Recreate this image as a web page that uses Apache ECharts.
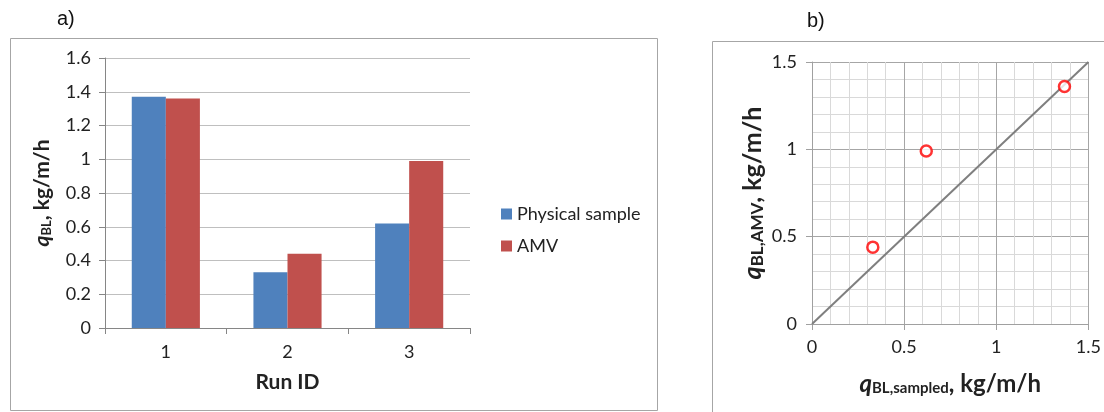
<!DOCTYPE html>
<html>
<head>
<meta charset="utf-8">
<script src="https://cdn.jsdelivr.net/npm/echarts@6/dist/echarts.min.js"></script>
<style>html,body{margin:0;padding:0;background:#fff}#c{width:1104px;height:412px}</style>
</head>
<body>
<div id="c"></div>
<script>
// ---- data ----
const runIds = ['1', '2', '3'];
const physicalSample = [1.37, 0.33, 0.62];
const amv = [1.36, 0.44, 0.99];
const sampledVsAmv = [[0.33, 0.44], [0.62, 0.99], [1.37, 1.36]];
const identityRange = [0, 1.5];
const barTicks = { min: 0, max: 1.6, interval: 0.2 };
const scatterTicks = { min: 0, max: 1.5, interval: 0.5 };

const fontA = 'Lato, "Open Sans", sans-serif';
const fontB = '"Liberation Sans", Arial, sans-serif';

function richName(big, small, pad) {
  return {
    fontFamily: fontA, color: '#222',
    rich: {
      q: { fontSize: big, fontWeight: 'bold', fontStyle: 'italic', fontFamily: fontA, color: '#222' },
      s: { fontSize: small, fontWeight: 'bold', fontFamily: fontA, color: '#222', padding: [pad, 0, 0, 0] },
      n: { fontSize: big, fontWeight: 'bold', fontFamily: fontA, color: '#222' }
    }
  };
}

const chart = echarts.init(document.getElementById('c'), null, { renderer: 'canvas' });
chart.setOption({
  backgroundColor: '#fff',
  animation: false,
  graphic: [
    { type: 'rect', shape: { x: 10.5, y: 38.5, width: 647, height: 372 }, style: { fill: 'none', stroke: '#A6A6A6', lineWidth: 1 } },
    { type: 'rect', shape: { x: 712.5, y: 41.5, width: 420, height: 380 }, style: { fill: 'none', stroke: '#A6A6A6', lineWidth: 1 } },
    { type: 'text', left: 57, top: 9, style: { text: 'a)', font: '20px ' + fontB, fill: '#111' } },
    { type: 'text', left: 807, top: 11, style: { text: 'b)', font: '20px ' + fontB, fill: '#111' } }
  ],
  legend: {
    data: ['Physical sample', 'AMV'],
    orient: 'vertical',
    left: 496, top: 200,
    itemWidth: 11, itemHeight: 11, itemGap: 14,
    icon: 'rect',
    textStyle: { fontSize: 18, fontFamily: fontA, color: '#222' }
  },
  grid: [
    { left: 105, top: 58, width: 365, height: 270 },
    { left: 812, top: 62, width: 277, height: 262 }
  ],
  xAxis: [
    {
      gridIndex: 0, type: 'category', data: runIds,
      axisLine: { lineStyle: { color: '#868686' } },
      axisTick: { show: true, length: 6, lineStyle: { color: '#868686' } },
      axisLabel: { fontSize: 18, fontFamily: fontA, color: '#222', margin: 15 },
      name: 'Run ID', nameLocation: 'middle', nameGap: 44,
      nameTextStyle: { fontSize: 21, fontWeight: 'bold', fontFamily: fontA, color: '#222' }
    },
    {
      gridIndex: 1, type: 'value', min: scatterTicks.min, max: scatterTicks.max, interval: scatterTicks.interval,
      axisLine: { show: true, lineStyle: { color: '#A0A0A0' } },
      axisTick: { show: true, length: 6, lineStyle: { color: '#A0A0A0' } },
      axisLabel: { fontSize: 18, fontFamily: fontA, color: '#222', margin: 14 },
      splitLine: { show: true, lineStyle: { color: '#A6A6A6' } },
      minorTick: { show: false, splitNumber: 5 },
      minorSplitLine: { show: true, lineStyle: { color: '#D9D9D9' } },
      name: '{q|q}{s|BL,sampled}{n|, kg/m/h}', nameLocation: 'middle', nameGap: 48,
      nameTextStyle: richName(24, 15, 9)
    }
  ],
  yAxis: [
    {
      gridIndex: 0, type: 'value', min: barTicks.min, max: barTicks.max, interval: barTicks.interval,
      axisLine: { show: true, lineStyle: { color: '#868686' } },
      axisTick: { show: true, length: 6, lineStyle: { color: '#868686' } },
      axisLabel: { fontSize: 18, fontFamily: fontA, color: '#222', margin: 14 },
      splitLine: { lineStyle: { color: '#BFBFBF' } },
      name: '{q|q}{s|BL}{n|, kg/m/h}', nameLocation: 'middle', nameGap: 52,
      nameTextStyle: richName(21, 13, 8)
    },
    {
      gridIndex: 1, type: 'value', min: scatterTicks.min, max: scatterTicks.max, interval: scatterTicks.interval,
      axisLine: { show: true, lineStyle: { color: '#A0A0A0' } },
      axisTick: { show: true, length: 6, lineStyle: { color: '#A0A0A0' } },
      axisLabel: { fontSize: 18, fontFamily: fontA, color: '#222', margin: 15 },
      splitLine: { show: true, lineStyle: { color: '#A6A6A6' } },
      minorTick: { show: false, splitNumber: 5 },
      minorSplitLine: { show: true, lineStyle: { color: '#D9D9D9' } },
      name: '{q|q}{s|BL,AMV}{n|, kg/m/h}', nameLocation: 'middle', nameGap: 46,
      nameTextStyle: richName(25, 17, 9)
    }
  ],
  series: [
    {
      name: 'Physical sample', type: 'bar', xAxisIndex: 0, yAxisIndex: 0,
      data: physicalSample, itemStyle: { color: '#4F81BD' },
      barGap: '0%', barCategoryGap: '44%'
    },
    {
      name: 'AMV', type: 'bar', xAxisIndex: 0, yAxisIndex: 0,
      data: amv, itemStyle: { color: '#C0504D' },
      barGap: '0%', barCategoryGap: '44%'
    },
    {
      name: '1:1', type: 'line', xAxisIndex: 1, yAxisIndex: 1,
      data: identityRange.map(v => [v, v]),
      showSymbol: false, symbol: 'none',
      lineStyle: { color: '#7F7F7F', width: 2 }, z: 3
    },
    {
      name: 'AMV vs sampled', type: 'scatter', xAxisIndex: 1, yAxisIndex: 1,
      data: sampledVsAmv, symbol: 'circle', symbolSize: 11,
      itemStyle: { color: '#fff', borderColor: '#FF0000', borderWidth: 2.5 }, z: 4
    }
  ]
});
</script>
</body>
</html>
